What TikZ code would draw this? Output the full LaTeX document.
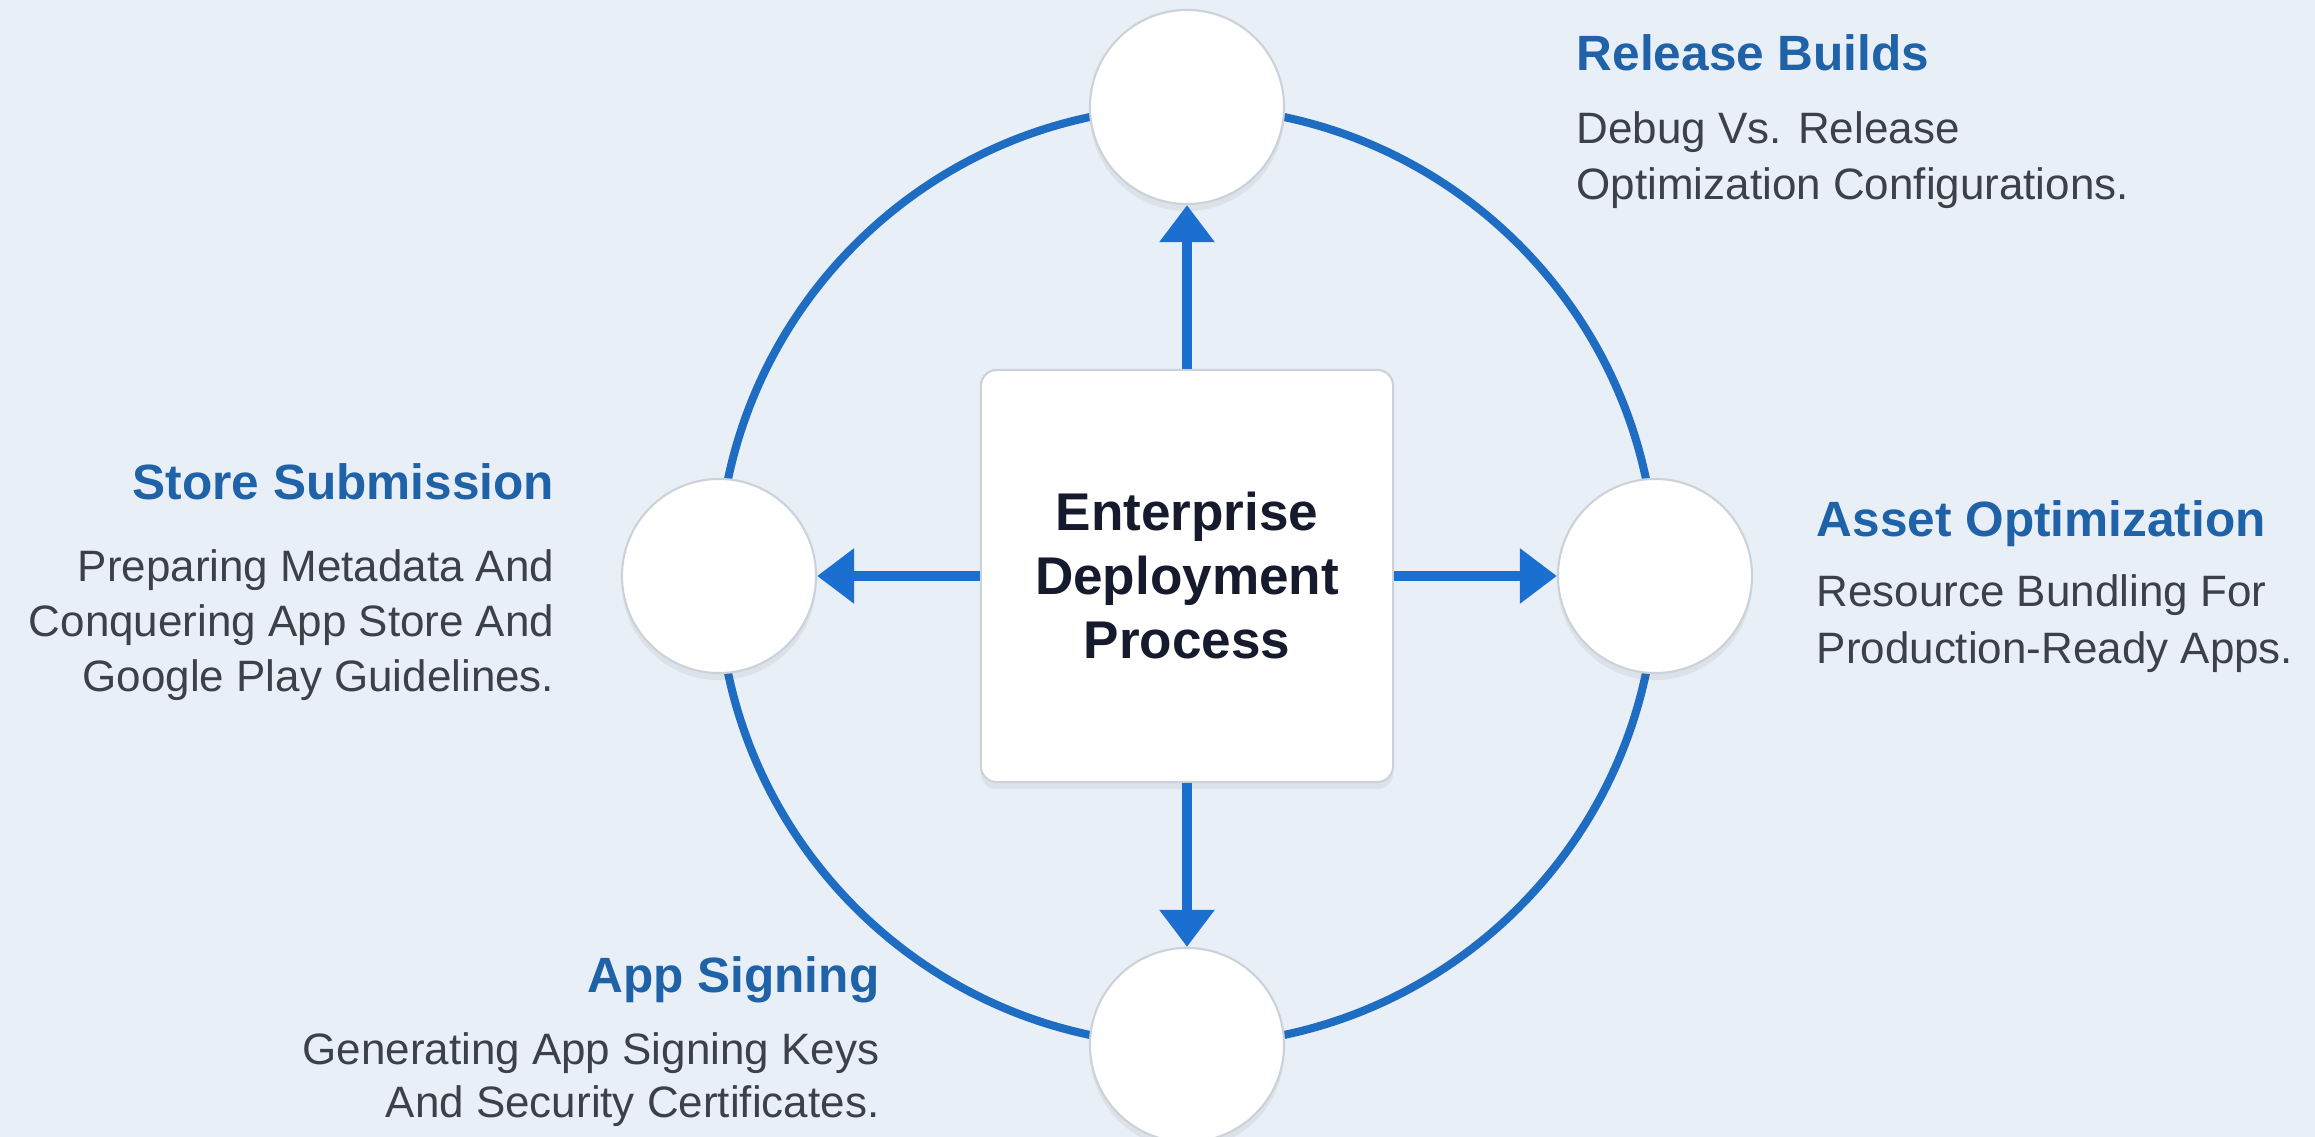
\documentclass[tikz,border=0pt]{standalone}
\usepackage{fontspec}
\setmainfont{Liberation Sans}
\usetikzlibrary{arrows.meta,shadows}
\definecolor{bg}{HTML}{E9EFF7}
\definecolor{ringblue}{HTML}{1F6DC2}
\definecolor{arrowblue}{HTML}{1A6FD0}
\definecolor{titleblue}{HTML}{1F62A8}
\definecolor{descgray}{HTML}{3C4048}
\definecolor{navy}{HTML}{151A2D}
\definecolor{edgegray}{HTML}{CDD1D8}
\begin{document}
\begin{tikzpicture}[x=0.01cm,y=-0.01cm,
  softshadow/.style={drop shadow={shadow xshift=0pt, shadow yshift=-2pt, opacity=0.08, fill=black!70}},
  hub/.style={draw=edgegray, line width=0.6pt, fill=white, rounded corners=0.16cm,
    minimum width=4.12cm, minimum height=4.12cm, inner sep=0pt, align=center,
    font=\fontsize{15.1}{18.2}\selectfont\bfseries, text=navy, softshadow},
  stage/.style={circle, draw=edgegray, line width=0.6pt, fill=white, minimum size=1.94cm, inner sep=0pt, softshadow},
  ring/.style={draw=ringblue, line width=2.3pt},
  flow/.style={draw=arrowblue, line width=2.6pt, -{Triangle[width=0.53cm,length=0.37cm]}},
  ttl/.style={font=\fontsize{14.1}{17}\selectfont\bfseries, text=titleblue, inner sep=0pt},
  dsc/.style={font=\fontsize{12.5}{15}\selectfont, text=descgray, inner sep=0pt}
]
\fill[bg] (0,0) rectangle (2315,1137);
\useasboundingbox (0,0) rectangle (2315,1137);
\draw[ring] (1187,576) circle [radius=469];
\node[stage] (top) at (1187,107) {};
\node[stage] (bottom) at (1187,1045) {};
\node[stage] (left) at (719,576) {};
\node[stage] (right) at (1655,576) {};
\node[hub] (hub) at (1187,576) {Enterprise\\Deployment\\Process};
\draw[flow] (hub.north) -- (top.south);
\draw[flow] (hub.south) -- (bottom.north);
\draw[flow] (hub.west) -- (left.east);
\draw[flow] (hub.east) -- (right.west);
% Release Builds
\node[ttl, anchor=base west] (rbT) at (1576,71) {Release Builds};
\node[dsc, anchor=base west] (rbD1) at (1576,144) {Debug Vs. Release};
\node[dsc, anchor=base west] (rbD2) at (1576,200) {Optimization Configurations.};
% Asset Optimization
\node[ttl, anchor=base west] (aoT) at (1816,537) {Asset Optimization};
\node[dsc, anchor=base west] (aoD1) at (1816,607) {Resource Bundling For};
\node[dsc, anchor=base west] (aoD2) at (1816,664) {Production-Ready Apps.};
% Store Submission
\node[ttl, anchor=base east] (ssT) at (555,500) {Store Submission};
\node[dsc, anchor=base east] (ssD1) at (555,582) {Preparing Metadata And};
\node[dsc, anchor=base east] (ssD2) at (555,637) {Conquering App Store And};
\node[dsc, anchor=base east] (ssD3) at (555,692) {Google Play Guidelines.};
% App Signing
\node[ttl, anchor=base east] (asT) at (880,992) {App Signing};
\node[dsc, anchor=base east] (asD1) at (880,1064) {Generating App Signing Keys};
\node[dsc, anchor=base east] (asD2) at (880,1117) {And Security Certificates.};
\end{tikzpicture}
\end{document}
